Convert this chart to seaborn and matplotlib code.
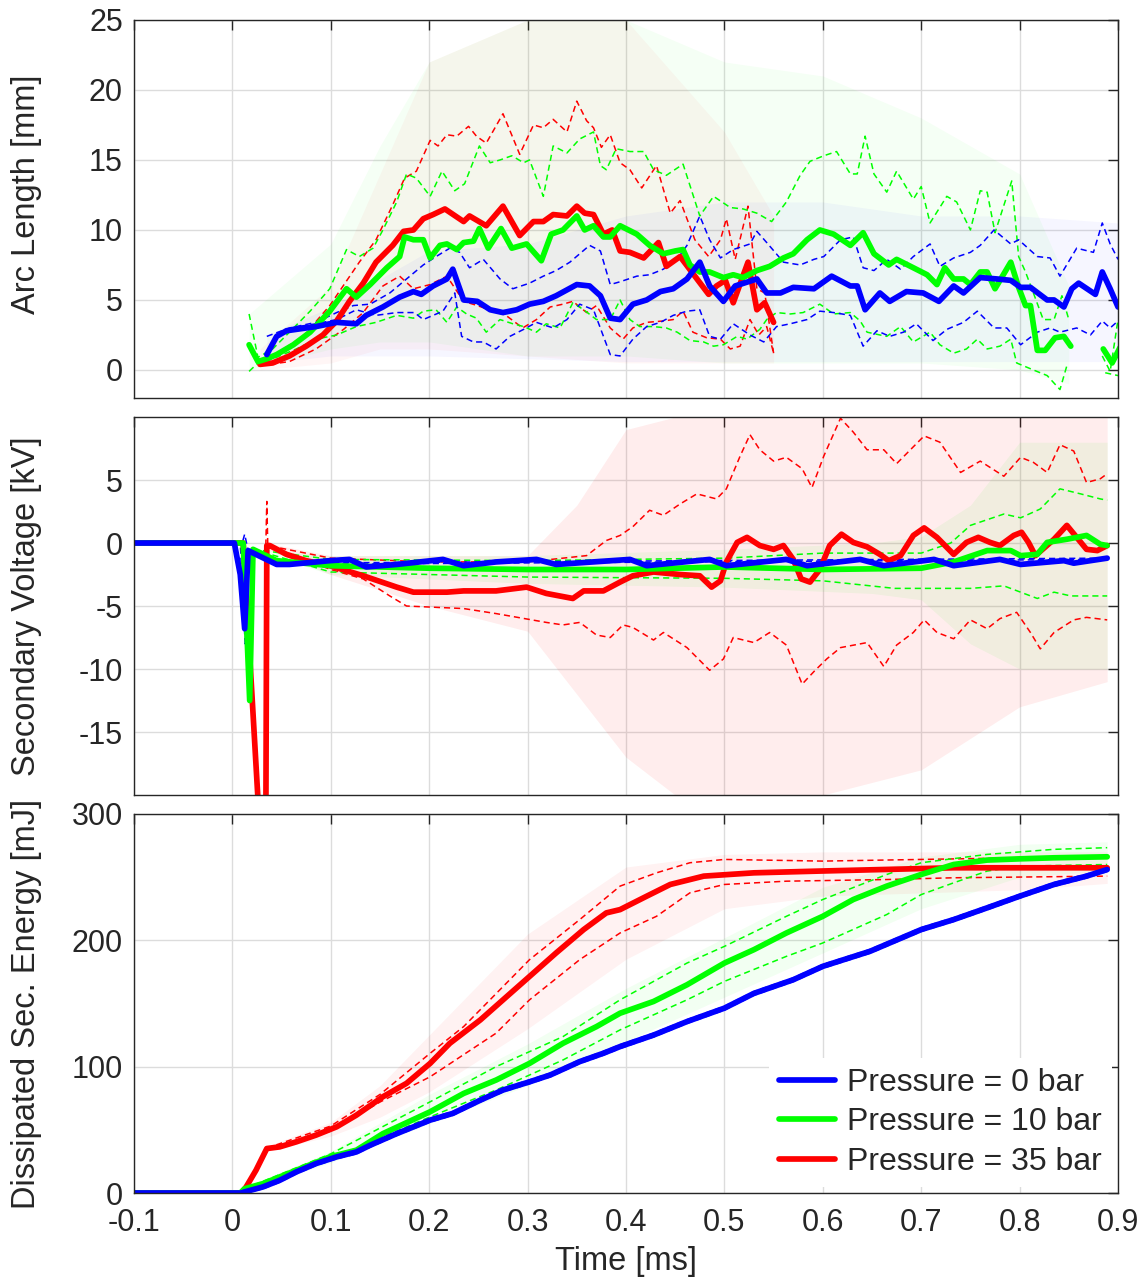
import numpy as np
import pandas as pd
import matplotlib
matplotlib.use("Agg")
import matplotlib.pyplot as plt
import seaborn as sns

# ---------------- colours / groups ----------------
GROUPS = ["0 bar", "10 bar", "35 bar"]
COLORS = {"0 bar": "#0000ff", "10 bar": "#00ff00", "35 bar": "#ff0000"}

# ---------------- panel 1 : arc length [mm] ----------------
T_ARC_B = [0.035,0.045,0.055,0.075,0.085,0.106,0.126,0.136,0.153,0.17,0.184,0.192,0.204,0.218,0.224,0.235,0.249,0.262,0.275,0.289,0.302,0.316,0.329,0.35,0.363,0.374,0.384,0.394,0.407,0.421,0.435,0.448,0.462,0.475,0.485,0.499,0.511,0.533,0.543,0.557,0.57,0.591,0.609,0.628,0.635,0.643,0.658,0.668,0.685,0.702,0.718,0.733,0.743,0.76,0.777,0.791,0.801,0.811,0.828,0.835,0.845,0.853,0.86,0.877,0.884,0.892,0.9]
ARC_B = [1.1,2.4,2.8,3.0,3.1,3.4,3.3,3.9,4.5,5.2,5.6,5.4,6.0,6.5,7.2,5.0,4.9,4.3,4.1,4.3,4.7,4.9,5.3,6.1,6.0,5.3,3.7,3.6,4.7,5.0,5.6,5.8,6.5,7.7,6.0,4.9,6.0,6.5,5.5,5.5,5.9,5.8,6.7,6.0,6.0,4.3,5.5,4.9,5.6,5.5,4.9,6.0,5.5,6.6,6.5,6.4,5.9,5.9,5.0,5.0,4.5,5.8,6.2,5.4,7.0,5.8,4.5]
T_ARC_B_HI = [0.035,0.058,0.085,0.106,0.123,0.14,0.16,0.177,0.194,0.207,0.221,0.231,0.241,0.255,0.272,0.285,0.302,0.316,0.329,0.343,0.363,0.374,0.384,0.394,0.411,0.424,0.438,0.452,0.462,0.475,0.485,0.496,0.509,0.526,0.533,0.543,0.56,0.577,0.591,0.601,0.618,0.631,0.641,0.652,0.665,0.679,0.692,0.709,0.719,0.733,0.75,0.76,0.774,0.791,0.799,0.818,0.831,0.841,0.858,0.875,0.884,0.892,0.9]
ARC_B_HI = [2.4,3.0,3.4,4.1,4.6,4.7,5.5,6.5,7.5,8.1,8.7,8.4,7.3,7.9,6.5,5.8,6.2,6.7,7.1,7.7,8.9,8.5,6.1,6.3,6.7,6.8,7.2,7.9,8.9,11.0,9.3,8.0,8.6,9.0,9.9,9.1,7.7,7.5,7.9,8.1,9.3,9.5,7.3,7.1,7.9,7.2,8.1,9.0,7.4,8.0,8.4,8.9,10.0,9.0,9.3,8.1,8.0,6.7,8.7,8.4,10.5,9.0,7.9]
T_ARC_B_LO = [0.035,0.045,0.058,0.085,0.106,0.126,0.146,0.167,0.185,0.194,0.214,0.226,0.233,0.245,0.255,0.268,0.282,0.296,0.309,0.326,0.34,0.353,0.367,0.384,0.394,0.407,0.421,0.435,0.448,0.462,0.475,0.485,0.496,0.509,0.526,0.54,0.553,0.567,0.584,0.597,0.611,0.628,0.641,0.655,0.668,0.682,0.695,0.712,0.726,0.743,0.757,0.774,0.787,0.801,0.818,0.831,0.841,0.858,0.872,0.884,0.892,0.9]
ARC_B_LO = [0.8,2.3,3.0,3.3,3.6,4.3,3.9,4.1,4.1,3.6,4.2,5.5,2.4,2.0,2.0,1.5,2.4,2.9,3.4,3.0,3.6,4.7,4.3,1.1,1.0,2.2,3.1,3.4,3.9,4.2,4.3,2.4,2.2,3.3,2.5,2.0,3.1,3.3,3.6,4.2,4.1,3.9,1.7,2.8,2.4,2.7,3.3,2.1,2.9,3.4,4.2,3.0,3.0,1.8,2.7,3.0,2.7,3.0,2.5,3.5,3.0,3.5]

T_ARC_G = [0.017,0.026,0.035,0.045,0.062,0.079,0.099,0.116,0.126,0.14,0.157,0.17,0.175,0.184,0.194,0.201,0.211,0.218,0.228,0.235,0.245,0.251,0.26,0.273,0.284,0.299,0.314,0.324,0.336,0.35,0.358,0.367,0.377,0.384,0.394,0.411,0.424,0.438,0.45,0.458,0.465,0.475,0.485,0.499,0.509,0.519,0.533,0.546,0.56,0.57,0.584,0.597,0.611,0.628,0.641,0.652,0.667,0.675,0.692,0.706,0.716,0.724,0.733,0.743,0.75,0.76,0.767,0.775,0.791,0.799,0.806,0.811,0.818,0.826,0.836,0.845,0.852]
ARC_G = [1.8,0.6,0.8,1.1,1.8,2.7,4.2,5.8,5.2,6.1,7.3,8.1,9.5,9.3,9.3,8.0,8.9,9.0,8.6,9.1,9.2,10.1,8.7,10.1,8.7,9.0,7.8,9.7,10.0,11.0,10.0,10.3,9.5,9.5,10.3,9.7,8.9,8.3,8.5,8.6,7.5,7.0,7.0,6.6,6.8,6.6,7.1,7.4,8.0,8.3,9.3,10.0,9.7,8.9,9.8,8.3,7.5,7.9,7.3,6.8,6.1,7.3,6.5,6.5,6.1,7.0,7.0,5.8,7.7,5.9,4.6,4.6,1.4,1.4,2.3,2.4,1.7]
T_ARC_G2 = [0.885,0.894,0.902]
ARC_G2 = [1.5,0.5,1.6]
T_ARC_G_HI = [0.017,0.026,0.041,0.058,0.079,0.099,0.116,0.129,0.143,0.153,0.167,0.177,0.187,0.201,0.213,0.226,0.236,0.251,0.262,0.272,0.284,0.296,0.302,0.316,0.326,0.34,0.353,0.367,0.374,0.38,0.39,0.404,0.418,0.428,0.441,0.458,0.475,0.489,0.506,0.519,0.533,0.548,0.563,0.577,0.587,0.601,0.614,0.628,0.635,0.643,0.652,0.665,0.675,0.692,0.7,0.709,0.726,0.736,0.75,0.76,0.767,0.775,0.792,0.799,0.806,0.814,0.824,0.835,0.843,0.85]
ARC_G_HI = [4.0,0.9,1.5,2.7,4.2,5.8,8.6,8.1,8.7,10.0,12.0,14.0,13.7,12.4,14.2,12.8,13.3,16.0,14.8,15.0,15.3,14.8,15.0,12.4,16.0,15.5,16.5,17.0,14.6,14.3,15.8,15.6,15.6,14.3,13.9,14.7,11.0,12.4,11.6,11.5,11.2,10.6,12.0,13.9,14.9,15.3,15.6,14.0,14.0,16.7,14.0,12.7,14.2,12.2,13.1,10.5,12.4,12.0,10.0,12.8,12.7,9.8,13.5,8.1,7.0,5.5,3.6,3.6,5.3,3.6]
T_ARC_G_HI2 = [0.884,0.892,0.9]
ARC_G_HI2 = [1.0,-0.1,3.6]
T_ARC_G_LO = [0.017,0.026,0.041,0.065,0.085,0.106,0.126,0.146,0.167,0.184,0.194,0.207,0.218,0.228,0.238,0.248,0.258,0.272,0.285,0.296,0.309,0.319,0.333,0.346,0.357,0.37,0.384,0.394,0.404,0.414,0.428,0.441,0.452,0.465,0.479,0.489,0.499,0.513,0.523,0.536,0.543,0.553,0.567,0.58,0.597,0.611,0.628,0.638,0.645,0.658,0.665,0.679,0.692,0.709,0.719,0.733,0.746,0.757,0.767,0.78,0.791,0.797,0.814,0.828,0.841,0.848]
ARC_G_LO = [-0.1,0.5,0.8,1.5,2.2,2.5,3.1,3.4,3.9,3.7,4.2,4.3,3.4,4.5,4.0,3.7,2.7,3.6,3.3,3.1,2.7,3.3,3.0,4.8,4.3,3.6,3.6,5.0,3.6,3.1,3.1,3.0,2.7,2.1,2.0,1.7,1.8,2.4,2.2,2.9,3.6,4.1,4.0,4.1,4.7,4.0,4.1,3.5,2.7,2.5,2.4,3.1,2.0,2.7,1.8,1.2,1.5,2.2,1.5,1.7,2.2,0.5,0.0,-0.4,-1.4,0.3]
T_ARC_G_LO2 = [0.887,0.9]
ARC_G_LO2 = [-0.2,-0.4]

T_ARC_R = [0.028,0.041,0.058,0.075,0.092,0.106,0.119,0.133,0.146,0.163,0.174,0.184,0.194,0.204,0.216,0.235,0.241,0.258,0.275,0.292,0.306,0.316,0.326,0.34,0.35,0.358,0.367,0.377,0.386,0.394,0.404,0.418,0.433,0.441,0.455,0.47,0.484,0.492,0.501,0.509,0.524,0.533,0.541,0.55]
ARC_R = [0.4,0.5,1.0,1.7,2.5,3.5,4.9,6.2,7.7,8.9,9.9,10.0,10.8,11.1,11.5,10.6,11.0,10.3,11.7,9.6,10.6,10.6,11.1,11.0,11.7,11.2,11.1,9.7,10.0,8.5,8.4,8.0,9.1,7.4,8.1,6.7,5.4,6.0,6.4,4.8,7.7,4.3,4.8,3.4]
T_ARC_R_HI = [0.028,0.041,0.072,0.099,0.129,0.146,0.163,0.175,0.187,0.201,0.209,0.218,0.228,0.24,0.248,0.258,0.275,0.292,0.306,0.316,0.326,0.34,0.35,0.36,0.367,0.375,0.384,0.394,0.404,0.416,0.431,0.445,0.455,0.47,0.484,0.496,0.502,0.511,0.524,0.533,0.541,0.55]
ARC_R_HI = [0.5,1.0,2.4,4.6,7.7,9.3,11.8,13.7,14.2,16.4,16.0,16.8,16.7,17.4,16.7,16.2,18.3,15.4,17.5,17.3,17.9,17.0,19.2,17.8,17.3,15.9,16.8,14.8,14.3,13.0,14.6,11.2,12.1,9.3,8.1,9.3,10.8,7.9,11.7,5.8,5.5,1.2]
T_ARC_R_LO = [0.028,0.058,0.085,0.113,0.133,0.153,0.17,0.184,0.201,0.218,0.235,0.249,0.265,0.278,0.295,0.309,0.323,0.336,0.346,0.36,0.37,0.384,0.397,0.407,0.421,0.438,0.448,0.458,0.468,0.482,0.496,0.506,0.516,0.526,0.535,0.543,0.55]
ARC_R_LO = [0.3,0.6,1.5,2.9,4.1,6.0,6.7,5.8,6.1,6.7,4.9,4.6,4.2,3.9,3.0,3.6,4.5,4.7,4.9,4.1,4.6,3.0,2.2,3.0,3.4,3.5,3.6,4.2,2.7,2.3,2.2,1.5,1.7,3.6,2.5,3.1,1.2]

# spread of the single runs (faint background), panel 1
T_ARC_ENV_B = [0.035,0.1,0.2,0.3,0.4,0.5,0.6,0.7,0.8,0.9]
ARC_ENV_B = ([0.5,1.0,1.0,0.8,0.6,0.6,0.6,0.6,0.6,0.6], [2.5,4.5,8.5,9.0,11.0,12.0,12.0,11.0,11.0,10.5])
T_ARC_ENV_G = [0.017,0.1,0.15,0.2,0.3,0.4,0.5,0.6,0.7,0.8,0.85]
ARC_ENV_G = ([0.0,1.5,2.0,2.0,1.0,1.0,0.5,0.5,0.5,0.0,-1.0], [4.0,9.0,16.0,22.0,25.0,25.0,22.0,21.0,18.0,14.0,6.0])
T_ARC_ENV_R = [0.028,0.1,0.15,0.2,0.3,0.4,0.45,0.5,0.55]
ARC_ENV_R = ([0.0,0.5,1.5,1.5,1.0,0.5,0.5,0.5,0.5], [1.5,6.0,14.0,22.0,25.0,25.0,21.0,17.0,11.0])

# ---------------- panel 2 : secondary voltage [kV] ----------------
T_U_B = [-0.1,0.002,0.008,0.0125,0.016,0.045,0.058,0.099,0.119,0.136,0.167,0.214,0.235,0.268,0.309,0.329,0.404,0.421,0.485,0.502,0.563,0.584,0.638,0.662,0.713,0.733,0.78,0.801,0.845,0.855,0.889]
U_B = [0,0,-2.5,-6.8,-0.6,-1.7,-1.7,-1.4,-1.3,-1.9,-1.7,-1.3,-1.8,-1.5,-1.3,-1.7,-1.3,-1.8,-1.3,-1.8,-1.3,-1.8,-1.3,-1.8,-1.3,-1.8,-1.3,-1.7,-1.4,-1.6,-1.2]
T_U_B_HI = [-0.1,0.010,0.0125,0.016,0.045,0.889]
U_B_HI = [0,0,0.7,-0.6,-1.6,-1.2]
T_U_B_LO = [-0.1,0.008,0.013,0.017,0.045,0.889]
U_B_LO = [0,0,-8.0,-0.8,-1.7,-1.3]

T_U_G = [-0.1,0.011,0.0176,0.021,0.045,0.1,0.2,0.3,0.4,0.5,0.6,0.7,0.733,0.767,0.791,0.801,0.818,0.828,0.848,0.868,0.882,0.889]
U_G = [0,0,-12.5,-0.5,-1.4,-1.8,-2.0,-2.1,-2.1,-1.9,-2.1,-2.0,-1.5,-0.6,-0.6,-1.0,-0.9,0.05,0.3,0.6,-0.1,-0.2]
T_U_G_HI = [0.021,0.1,0.3,0.5,0.6,0.7,0.73,0.75,0.784,0.801,0.821,0.841,0.862,0.882,0.889]
U_G_HI = [-0.5,-1.3,-1.4,-1.2,-0.8,-0.8,0.0,1.4,2.3,2.0,2.7,4.3,3.9,3.5,3.4]
T_U_G_LO = [0.021,0.1,0.3,0.5,0.6,0.673,0.75,0.784,0.818,0.835,0.852,0.889]
U_G_LO = [-0.5,-2.3,-2.7,-2.8,-3.0,-3.6,-3.6,-3.4,-4.4,-3.9,-4.2,-4.2]

T_U_R = [-0.1,0.011,0.028,0.034,0.035,0.038,0.055,0.075,0.099,0.133,0.167,0.184,0.218,0.235,0.268,0.299,0.319,0.346,0.357,0.377,0.394,0.407,0.428,0.455,0.475,0.487,0.496,0.502,0.513,0.523,0.536,0.55,0.56,0.57,0.578,0.587,0.597,0.607,0.619,0.631,0.645,0.658,0.667,0.679,0.692,0.703,0.716,0.733,0.746,0.758,0.77,0.78,0.794,0.802,0.809,0.816,0.835,0.848,0.858,0.868,0.879,0.889]
U_R = [0,0,-23,-23,-0.2,-0.2,-0.9,-1.4,-1.8,-2.6,-3.5,-3.9,-3.9,-3.8,-3.8,-3.5,-4.0,-4.4,-3.8,-3.8,-3.1,-2.6,-2.3,-2.5,-2.6,-3.5,-3.0,-1.5,0.05,0.45,-0.2,-0.5,-0.2,-1.3,-2.85,-3.1,-2.1,-0.2,0.7,0.05,-0.3,-0.9,-1.4,-1.0,0.6,1.2,0.45,-0.9,0.05,0.45,0.05,-0.2,0.6,0.85,0.05,-1.0,0.3,1.4,0.45,-0.5,-0.6,-0.2]
T_U_R_HI = [0.034,0.035,0.036,0.1,0.2,0.3,0.36,0.38,0.394,0.407,0.424,0.438,0.455,0.472,0.492,0.502,0.516,0.526,0.536,0.55,0.563,0.579,0.589,0.601,0.618,0.631,0.645,0.662,0.675,0.689,0.703,0.719,0.74,0.76,0.784,0.801,0.814,0.828,0.841,0.855,0.868,0.882,0.889]
U_R_HI = [-0.2,3.3,-0.2,-1.2,-1.5,-1.5,-1.0,0.2,0.6,1.3,2.6,2.2,3.1,3.9,3.5,4.3,6.9,8.6,7.4,6.5,6.8,5.9,4.4,6.9,9.9,8.8,7.4,7.4,6.3,7.4,8.5,8.0,5.6,6.5,5.3,6.8,6.4,5.6,7.8,7.3,4.8,5.1,5.5]
T_U_R_LO = [0.034,0.1,0.133,0.16,0.177,0.235,0.268,0.319,0.336,0.353,0.37,0.384,0.397,0.407,0.428,0.438,0.462,0.485,0.499,0.509,0.53,0.546,0.563,0.579,0.591,0.604,0.618,0.645,0.662,0.675,0.692,0.703,0.716,0.733,0.75,0.767,0.78,0.797,0.811,0.821,0.835,0.855,0.868,0.889]
U_R_LO = [-0.2,-2.1,-2.85,-4.2,-5.0,-5.2,-5.6,-6.3,-6.5,-6.3,-7.3,-7.5,-6.5,-6.7,-7.7,-7.1,-8.3,-10.1,-9.2,-7.5,-7.9,-7.1,-8.1,-11.2,-10.2,-9.2,-8.3,-7.9,-9.8,-8.1,-7.1,-6.1,-7.1,-7.6,-6.1,-6.8,-6.0,-5.5,-7.1,-8.4,-7.1,-6.1,-5.9,-6.1]

T_U_ENV_G = [0.021,0.1,0.3,0.5,0.65,0.7,0.75,0.8,0.889]
U_ENV_G = ([-0.5,-2.5,-3.2,-3.5,-4.0,-4.5,-8.0,-10.0,-10.0], [-0.5,-1.0,-1.0,-0.5,0.0,0.5,3.0,8.0,8.0])
T_U_ENV_R = [0.035,0.1,0.2,0.3,0.35,0.4,0.45,0.5,0.6,0.7,0.8,0.889]
U_ENV_R = ([-0.5,-2.5,-5.0,-7.0,-12.0,-17.0,-20.0,-20.0,-20.0,-18.0,-13.0,-11.0], [0.0,-1.0,-1.0,-1.0,3.0,9.0,10.0,10.0,10.0,10.0,10.0,10.0])

# ---------------- panel 3 : dissipated secondary energy [mJ] ----------------
T_E_B = [-0.1,0.009,0.012,0.031,0.048,0.065,0.085,0.106,0.126,0.14,0.167,0.201,0.224,0.252,0.275,0.302,0.323,0.353,0.377,0.394,0.428,0.462,0.5,0.53,0.57,0.6,0.648,0.7,0.733,0.767,0.8,0.835,0.868,0.889]
E_B = [0,0,0.8,4.8,10,16.7,23.3,28.6,32.5,37.8,47,57.7,63,73.5,81.5,88,93.4,104,110.6,115.9,125,135.7,146.3,158,168.8,179.4,191.3,208.5,216.4,225.7,234.9,244.2,250.8,256]
E_B_SPREAD = [1.5, 1.5]

T_E_G = [-0.1,0.008,0.0125,0.031,0.065,0.099,0.126,0.153,0.201,0.235,0.268,0.302,0.336,0.37,0.394,0.428,0.462,0.5,0.53,0.563,0.6,0.631,0.665,0.7,0.733,0.767,0.801,0.835,0.889]
E_G = [0,0,3.4,7.4,18,28.6,33.9,47,64.3,78.8,89.4,102.6,118.5,131.7,142.3,151.6,164.8,182,192.6,205.8,219,232.3,242.9,252.1,260,263.5,264.5,265.3,266.1]
T_E_G_HI = [0.0125,0.1,0.201,0.268,0.336,0.394,0.462,0.5,0.563,0.6,0.665,0.7,0.767,0.835,0.889]
E_G_HI = [3.4,31,72.2,100,123.8,152.9,182,195.2,219,232.3,252.1,261.4,268,272,273.3]
T_E_G_LO = [0.0125,0.1,0.201,0.268,0.336,0.394,0.462,0.5,0.563,0.6,0.665,0.7,0.733,0.767,0.8,0.889]
E_G_LO = [3.4,27,60.3,81.5,105.3,129.1,152.9,167.5,187.3,197.9,220.4,236.2,245.5,254.8,258.7,260]

T_E_R = [-0.1,0.009,0.014,0.024,0.035,0.048,0.065,0.085,0.106,0.126,0.153,0.177,0.201,0.221,0.252,0.279,0.302,0.329,0.357,0.38,0.394,0.421,0.445,0.479,0.53,0.597,0.665,0.733,0.801,0.889]
E_R = [0,0,4.8,18,35.2,36.5,40.5,45.8,52.4,61.6,76.2,86.8,102.6,118.5,137,155.6,171.4,190,208.5,221.7,224.3,234.9,244.2,250.8,253.4,254.8,256.1,257.4,257.4,257.4]
T_E_R_HI = [0.035,0.1,0.15,0.201,0.235,0.302,0.353,0.394,0.431,0.465,0.5,0.6,0.7,0.8,0.889]
E_R_HI = [35.5,53,78,110.6,131.7,184.7,216.4,242.9,253.4,261.4,264,262.7,264,265.3,266.7]
T_E_R_LO = [0.035,0.1,0.15,0.201,0.268,0.302,0.353,0.394,0.431,0.465,0.5,0.563,0.665,0.733,0.889]
E_R_LO = [35,49,72,92,126.5,152.9,184.7,205.8,219,237.6,244.2,246.8,248.1,249.5,250.8]

T_E_ENV_G = [0.0125,0.1,0.2,0.3,0.4,0.5,0.6,0.7,0.8,0.889]
E_ENV_G = ([2,24,55,85,120,155,190,225,250,255], [5,33,78,118,162,202,242,266,276,278])
T_E_ENV_R = [0.035,0.1,0.15,0.2,0.3,0.4,0.5,0.6,0.8,0.889]
E_ENV_R = ([33,45,60,80,130,185,225,235,240,245], [37,56,85,125,205,258,268,270,270,270])

XTICKS = [-0.1, 0, 0.1, 0.2, 0.3, 0.4, 0.5, 0.6, 0.7, 0.8, 0.9]
XTICKLABELS = ["-0.1", "0", "0.1", "0.2", "0.3", "0.4", "0.5", "0.6", "0.7", "0.8", "0.9"]

# ---------------- style ----------------
sns.set_theme(style="white")
plt.rcParams["font.family"] = ["Liberation Sans", "DejaVu Sans"]
plt.rcParams["axes.unicode_minus"] = False
INK = "#262626"

MEAN_LW = 4.1
DASH_LW = 1.1
DASHES = (4, 2.6)


def line(ax, t, v, color, lw=MEAN_LW, dashed=False, label=None, z=3):
    df = pd.DataFrame({"t": t, "v": v})
    kw = dict(linestyle=(0, DASHES)) if dashed else {}
    sns.lineplot(data=df, x="t", y="v", ax=ax, color=color, lw=lw, sort=False,
                 estimator=None, label=label, legend=False, zorder=z, **kw)


def spread(ax, t, env, color, alpha):
    ax.fill_between(t, env[0], env[1], color=color, alpha=alpha, lw=0, zorder=1)


fig = plt.figure(figsize=(11.42, 12.78), dpi=100)
L, W = 0.1173, 0.8617
ax1 = fig.add_axes([L, 0.6886, W, 0.2958])
ax2 = fig.add_axes([L, 0.3779, W, 0.2958])
ax3 = fig.add_axes([L, 0.0665, W, 0.2966])

cB, cG, cR = COLORS["0 bar"], COLORS["10 bar"], COLORS["35 bar"]

# panel 1
spread(ax1, T_ARC_ENV_B, ARC_ENV_B, cB, 0.035)
spread(ax1, T_ARC_ENV_G, ARC_ENV_G, cG, 0.04)
spread(ax1, T_ARC_ENV_R, ARC_ENV_R, cR, 0.035)
for t, v, c in [(T_ARC_R_HI, ARC_R_HI, cR), (T_ARC_R_LO, ARC_R_LO, cR),
                (T_ARC_G_HI, ARC_G_HI, cG), (T_ARC_G_HI2, ARC_G_HI2, cG),
                (T_ARC_G_LO, ARC_G_LO, cG), (T_ARC_G_LO2, ARC_G_LO2, cG),
                (T_ARC_B_HI, ARC_B_HI, cB), (T_ARC_B_LO, ARC_B_LO, cB)]:
    line(ax1, t, v, c, lw=DASH_LW, dashed=True, z=2)
line(ax1, T_ARC_R, ARC_R, cR, z=3)
line(ax1, T_ARC_G, ARC_G, cG, z=4)
line(ax1, T_ARC_G2, ARC_G2, cG, z=4)
line(ax1, T_ARC_B, ARC_B, cB, z=5)

# panel 2
spread(ax2, T_U_ENV_G, U_ENV_G, cG, 0.06)
spread(ax2, T_U_ENV_R, U_ENV_R, cR, 0.07)
for t, v, c in [(T_U_R_HI, U_R_HI, cR), (T_U_R_LO, U_R_LO, cR),
                (T_U_G_HI, U_G_HI, cG), (T_U_G_LO, U_G_LO, cG),
                (T_U_B_HI, U_B_HI, cB), (T_U_B_LO, U_B_LO, cB)]:
    line(ax2, t, v, c, lw=DASH_LW, dashed=True, z=2)
line(ax2, T_U_R, U_R, cR, z=3)
line(ax2, T_U_G, U_G, cG, z=4)
line(ax2, T_U_B, U_B, cB, z=5)

# panel 3
spread(ax3, T_E_ENV_G, E_ENV_G, cG, 0.05)
spread(ax3, T_E_ENV_R, E_ENV_R, cR, 0.05)
e_b = np.array(E_B, dtype=float)
for t, v, c in [(T_E_R_HI, E_R_HI, cR), (T_E_R_LO, E_R_LO, cR),
                (T_E_G_HI, E_G_HI, cG), (T_E_G_LO, E_G_LO, cG),
                (T_E_B, e_b + E_B_SPREAD[1], cB), (T_E_B, np.clip(e_b - E_B_SPREAD[0], 0, None), cB)]:
    line(ax3, t, v, c, lw=DASH_LW, dashed=True, z=2)
line(ax3, T_E_R, E_R, cR, z=3, label="Pressure = 35 bar")
line(ax3, T_E_G, E_G, cG, z=4, label="Pressure = 10 bar")
line(ax3, T_E_B, E_B, cB, z=5, label="Pressure = 0 bar")

# axes cosmetics (MATLAB-like box)
limits = [(-2, 25), (-20, 10), (0, 300)]
yticks = [[0, 5, 10, 15, 20, 25], [-15, -10, -5, 0, 5], [0, 100, 200, 300]]
ylabels = ["Arc Length [mm]", "Secondary Voltage [kV]", "Dissipated Sec. Energy [mJ]"]
ylabel_y = [0.54, 0.5, 0.5]
for ax, lim, yt, yl, ly in zip([ax1, ax2, ax3], limits, yticks, ylabels, ylabel_y):
    ax.set_xlim(-0.1, 0.9)
    ax.set_ylim(*lim)
    ax.set_yticks(yt)
    ax.set_xticks(XTICKS)
    ax.grid(True, color="#dcdcdc", lw=1.0, zorder=0)
    ax.set_axisbelow(True)
    for s in ax.spines.values():
        s.set_color(INK)
        s.set_linewidth(1.0)
        s.set_zorder(10)
    ax.tick_params(direction="in", length=7, width=1.0, color=INK, top=True,
                   right=True, labelsize=22, labelcolor=INK)
    ax.tick_params(axis="y", pad=8)
    ax.tick_params(axis="x", pad=11)
    ax.set_ylabel(yl, fontsize=23.5, color=INK)
    ax.yaxis.set_label_coords(-0.093, ly)
    ax.set_xlabel("")

ax1.set_xticklabels([])
ax2.set_xticklabels([])
ax3.set_xticklabels(XTICKLABELS)
ax3.set_xlabel("Time [ms]", fontsize=23.5, color=INK)
ax3.xaxis.set_label_coords(0.5, -0.14)

handles, labels = ax3.get_legend_handles_labels()
order = [labels.index(f"Pressure = {g}") for g in GROUPS]
leg = ax3.legend([handles[i] for i in order], [labels[i] for i in order],
                 loc="lower right", bbox_to_anchor=(1.0, 0.0), fontsize=23,
                 frameon=True, fancybox=False, framealpha=1.0, facecolor="white",
                 edgecolor="none", handlelength=1.75, handletextpad=0.4,
                 labelspacing=0.3, borderaxespad=0.2, borderpad=0.3)
for h in leg.get_lines():
    h.set_linewidth(MEAN_LW)
leg.set_zorder(20)

fig.savefig("out.png", dpi=100)
